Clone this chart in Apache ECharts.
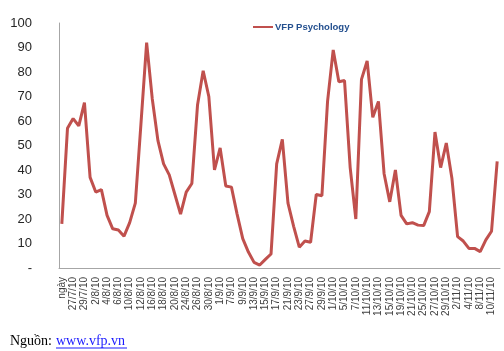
<!DOCTYPE html>
<html>
<head>
<meta charset="utf-8">
<script src="https://cdn.jsdelivr.net/npm/echarts@6/dist/echarts.min.js"></script>
<style>
html,body{margin:0;padding:0;background:#fff;}
#chart{width:504px;height:351px;}
</style>
</head>
<body>
<div id="chart"></div>
<script>
var categories = ['ngày','26/7/10','27/7/10','28/7/10','29/7/10','30/7/10','2/8/10','3/8/10','4/8/10','5/8/10',
  '6/8/10','9/8/10','10/8/10','11/8/10','12/8/10','13/8/10','16/8/10','17/8/10','18/8/10','19/8/10',
  '20/8/10','23/8/10','24/8/10','25/8/10','26/8/10','27/8/10','30/8/10','31/8/10','1/9/10','6/9/10',
  '7/9/10','8/9/10','9/9/10','10/9/10','13/9/10','14/9/10','15/9/10','16/9/10','17/9/10','20/9/10',
  '21/9/10','22/9/10','23/9/10','24/9/10','27/9/10','28/9/10','29/9/10','30/9/10','1/10/10','4/10/10',
  '5/10/10','6/10/10','7/10/10','8/10/10','11/10/10','12/10/10','13/10/10','14/10/10','15/10/10','18/10/10',
  '19/10/10','20/10/10','21/10/10','22/10/10','25/10/10','26/10/10','27/10/10','28/10/10','29/10/10','1/11/10',
  '2/11/10','3/11/10','4/11/10','5/11/10','8/11/10','9/11/10','10/11/10','11/11/10'];
var psychology = [18,57,61,58,67.5,37,31,32,21.5,16,
  15.5,13,18.5,26.5,59,92,69,52,42.5,38,
  30,22,31,34.5,66.5,80.5,70,40,49,33.5,
  33,22,12,6.5,2.3,1.2,3.5,5.7,42.5,52.5,
  26.5,17,8.5,11,10.5,30,29.5,68,89,76,
  76.5,41,20,77,84.5,61.5,68,38.5,27,40,
  21.5,18,18.5,17.5,17.3,23,55.5,41,51,36.5,
  12.8,11,8,8,6.7,11.5,15,43.5];
var yTicks = {min: 0, max: 100, interval: 10};

var chart = echarts.init(document.getElementById('chart'), null, {renderer: 'canvas'});
chart.setOption({
  animation: false,
  backgroundColor: '#fff',
  legend: {
    data: ['VFP Psychology'],
    left: 248,
    top: 17,
    icon: 'rect',
    itemWidth: 20,
    itemHeight: 2,
    itemGap: 4,
    textStyle: {fontFamily: 'Liberation Sans', fontSize: 9.5, fontWeight: 'bold', color: '#24508F', padding: [0,0,0,-3]}
  },
  grid: {left: 59, right: 4, top: 23, bottom: 83, containLabel: false},
  xAxis: {
    type: 'category',
    data: categories,
    boundaryGap: true,
    axisLine: {lineStyle: {color: '#a6a6a6', width: 1}},
    axisTick: {show: false},
    axisLabel: {
      interval: 1,
      rotate: 90,
      fontSize: 10,
      margin: 9,
      color: '#404040',
      fontFamily: 'Liberation Sans'
    },
    splitLine: {show: false}
  },
  yAxis: {
    type: 'value',
    min: yTicks.min,
    max: yTicks.max,
    interval: yTicks.interval,
    axisLine: {show: true, lineStyle: {color: '#a6a6a6', width: 1}},
    axisTick: {show: false},
    splitLine: {show: false},
    axisLabel: {
      margin: 27,
      fontSize: 13,
      color: '#262626',
      fontFamily: 'Liberation Sans',
      formatter: function (v) { return v === 0 ? '-' : String(v); }
    }
  },
  series: [{
    name: 'VFP Psychology',
    type: 'line',
    data: psychology,
    symbol: 'none',
    smooth: false,
    lineStyle: {color: '#C0504D', width: 3},
    itemStyle: {color: '#C0504D'}
  }],
  graphic: [
    {type: 'text', left: 10, top: 334, style: {text: 'Nguồn:', font: '14px "Liberation Serif"', fill: '#000'}},
    {type: 'text', left: 56, top: 334, style: {text: 'www.vfp.vn', font: '14px "Liberation Serif"', fill: '#1a1aff'}},
    {type: 'line', shape: {x1: 56, y1: 348, x2: 127, y2: 348}, style: {stroke: '#1a1aff', lineWidth: 1}}
  ]
});
</script>
</body>
</html>
